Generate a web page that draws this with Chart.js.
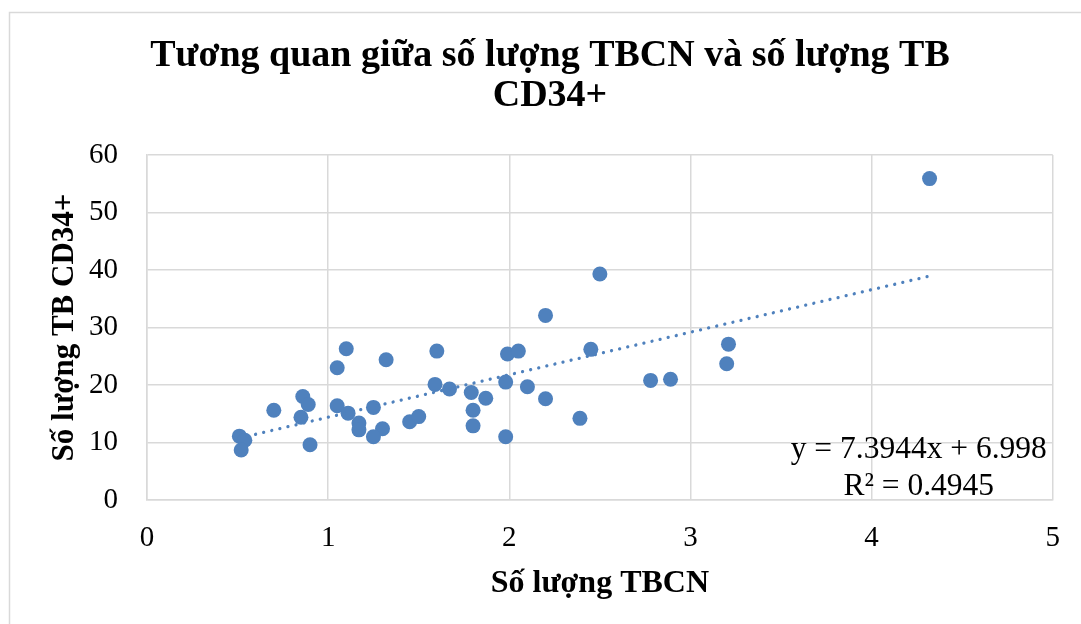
<!DOCTYPE html>
<html>
<head>
<meta charset="utf-8">
<script src="https://cdn.jsdelivr.net/npm/chart.js@4.4.1/dist/chart.umd.min.js"></script>
<style>
    html, body { margin: 0; padding: 0; background: #fff; }
    #wrap { width: 1081px; height: 624px; position: relative; }
</style>
</head>
<body>
<div id="wrap"><canvas id="chart"></canvas></div>
<script>
// số lượng TBCN (x) và số lượng TB CD34+ (y)
const tbcn = [0.51, 0.54, 0.52, 0.70, 0.86, 0.89, 0.85, 0.90, 1.05, 1.10,
              1.32, 1.60, 1.05, 1.11, 1.17, 1.17, 1.25, 1.30, 1.25, 1.45,
              1.50, 1.59, 1.67, 1.79, 1.87, 1.80, 1.80, 1.98, 1.98, 1.99,
              2.05, 2.10, 2.20, 2.20, 2.50, 2.45, 2.39, 2.78, 2.89, 3.21,
              3.20, 4.32];
const cd34 = [11.1, 10.4, 8.7, 15.6, 18.0, 16.6, 14.4, 9.6, 23.0, 26.3,
              24.4, 25.9, 16.4, 15.1, 13.4, 12.2, 16.1, 12.4, 11.0, 13.6,
              14.5, 20.1, 19.3, 18.7, 17.7, 15.6, 12.9, 20.5, 11.0, 25.4,
              25.9, 19.7, 17.6, 32.1, 39.3, 26.2, 14.2, 20.8, 21.0, 27.1,
              23.7, 55.9];

const trendSlope = 7.3944;
const trendIntercept = 6.998;
const trendLabel = ['y = 7.3944x + 6.998', 'R\u00b2 = 0.4945'];

const titleLines = ['T\u01b0\u01a1ng quan gi\u1eefa s\u1ed1 l\u01b0\u1ee3ng TBCN v\u00e0 s\u1ed1 l\u01b0\u1ee3ng TB', 'CD34+'];
const xTitle = 'S\u1ed1 l\u01b0\u1ee3ng TBCN';
const yTitle = 'S\u1ed1 l\u01b0\u1ee3ng TB CD34+';

const SERIF = '"Liberation Serif", "Times New Roman", serif';
const BLUE = '#4f81bd';
const GRID = '#d9d9d9';

const points = tbcn.map((x, i) => ({x: x, y: cd34[i]}));
const xMin = Math.min(...tbcn);
const xMax = Math.max(...tbcn);
const trend = [xMin, xMax].map(x => ({x: x, y: trendSlope * x + trendIntercept}));

const frame = {
    id: 'frame',
    beforeDraw(chart) {
        const ctx = chart.ctx;
        ctx.save();
        ctx.strokeStyle = GRID;
        ctx.lineWidth = 1.5;
        ctx.strokeRect(9.5, 12.5, 1200, 700);
        ctx.restore();
    }
};

const equation = {
    id: 'equation',
    afterDraw(chart) {
        const ctx = chart.ctx;
        const area = chart.chartArea;
        ctx.save();
        ctx.fillStyle = '#000';
        ctx.font = '31.5px ' + SERIF;
        ctx.textAlign = 'center';
        ctx.textBaseline = 'alphabetic';
        const cx = area.right - 134;
        ctx.fillText(trendLabel[0], cx, area.bottom - 42);
        ctx.fillText(trendLabel[1], cx, area.bottom - 5);
        ctx.restore();
    }
};

new Chart(document.getElementById('chart'), {
    type: 'scatter',
    data: {
        datasets: [
            {
                label: 'Linear',
                data: trend,
                showLine: true,
                borderColor: BLUE,
                borderWidth: 3.3,
                borderDash: [0.01, 8.3],
                borderCapStyle: 'round',
                pointRadius: 0,
                fill: false
            },
            {
                label: 'TB',
                data: points,
                backgroundColor: BLUE,
                borderWidth: 0,
                pointRadius: 7.5,
                pointHoverRadius: 7.5
            }
        ]
    },
    options: {
        responsive: true,
        maintainAspectRatio: false,
        animation: false,
        layout: { padding: { left: 46, right: 27, top: 0, bottom: 0 } },
        plugins: {
            legend: { display: false },
            tooltip: { enabled: false },
            title: {
                display: true,
                text: titleLines,
                color: '#000',
                font: { family: SERIF, size: 38, weight: 'bold', lineHeight: 1.0526 },
                padding: { top: 36, bottom: 39 }
            }
        },
        scales: {
            x: {
                type: 'linear',
                min: 0,
                max: 5,
                afterFit(scale) { scale.height = 124; },
                ticks: {
                    stepSize: 1,
                    color: '#000',
                    padding: 21,
                    font: { family: SERIF, size: 29 }
                },
                grid: { color: GRID, lineWidth: 1.5, drawTicks: false },
                border: { color: GRID, width: 1.5 },
                title: {
                    display: true,
                    text: xTitle,
                    color: '#000',
                    font: { family: SERIF, size: 32, weight: 'bold', lineHeight: 1.2 },
                    padding: { top: 0, bottom: 21 }
                }
            },
            y: {
                min: 0,
                max: 60,
                afterFit(scale) { scale.width = 101; },
                ticks: {
                    stepSize: 10,
                    color: '#000',
                    padding: 29,
                    font: { family: SERIF, size: 29 }
                },
                grid: { color: GRID, lineWidth: 1.5, drawTicks: false },
                border: { color: GRID, width: 1.5 },
                title: {
                    display: true,
                    text: yTitle,
                    color: '#000',
                    font: { family: SERIF, size: 31, weight: 'bold', lineHeight: 1.2 },
                    padding: { top: 0, bottom: 0 }
                }
            }
        }
    },
    plugins: [frame, equation]
});
</script>
</body>
</html>
